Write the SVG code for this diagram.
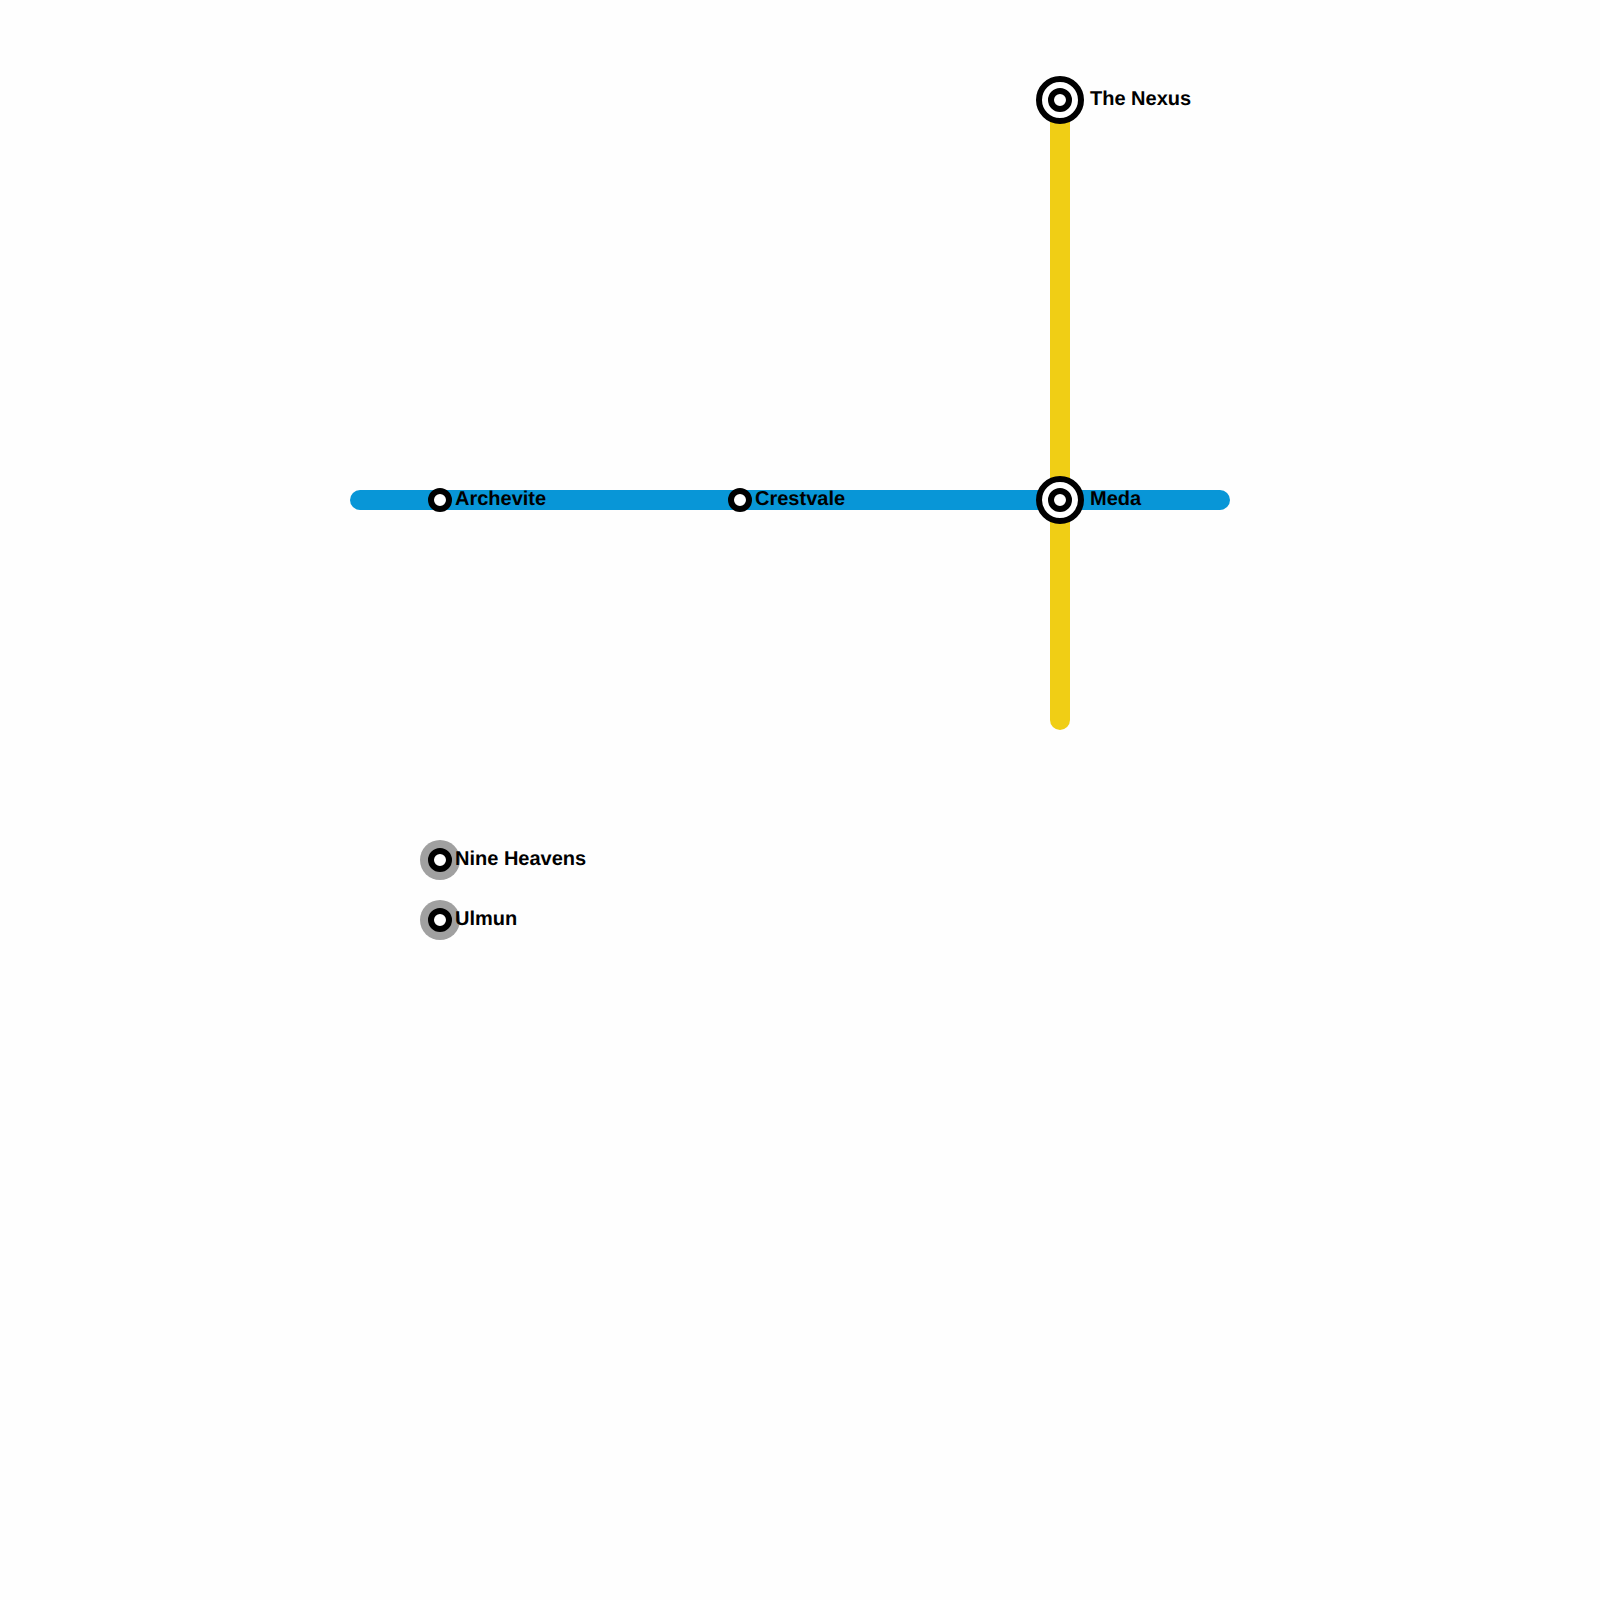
<svg xmlns="http://www.w3.org/2000/svg" width="1600" height="1600" viewBox="0 0 1600 1600">
<style>
.line{fill:none;stroke-width:20;stroke-linecap:round}
.ring{fill:#fff;stroke:#000;stroke-width:6}
.halo{fill:#a0a0a0}
.label{font-family:"Liberation Sans",Arial,sans-serif;font-weight:700;font-size:20px;fill:#000;text-rendering:geometricPrecision}
</style>
<rect width="1600" height="1600" fill="#fefefe"/>
<g id="connectors">
<path class="line" stroke="#f0ce15" d="M1060 100V720"/>
<path class="line" stroke="#0896d7" d="M360 500H1220"/>
</g>
<g id="the-nexus"><circle class="ring" cx="1060" cy="100" r="21"/><circle class="ring" cx="1060" cy="100" r="9"/><text class="label" x="1090" y="105">The Nexus</text></g>
<g id="meda"><circle class="ring" cx="1060" cy="500" r="21"/><circle class="ring" cx="1060" cy="500" r="9"/><text class="label" x="1090" y="505">Meda</text></g>
<g id="archevite"><circle class="ring" cx="440" cy="500" r="9"/><text class="label" x="455" y="505">Archevite</text></g>
<g id="crestvale"><circle class="ring" cx="740" cy="500" r="9"/><text class="label" x="755" y="505">Crestvale</text></g>
<g id="nine-heavens"><circle class="halo" cx="440" cy="860" r="20"/><circle class="ring" cx="440" cy="860" r="9"/><text class="label" x="455" y="865">Nine Heavens</text></g>
<g id="ulmun"><circle class="halo" cx="440" cy="920" r="20"/><circle class="ring" cx="440" cy="920" r="9"/><text class="label" x="455" y="925">Ulmun</text></g>
</svg>
